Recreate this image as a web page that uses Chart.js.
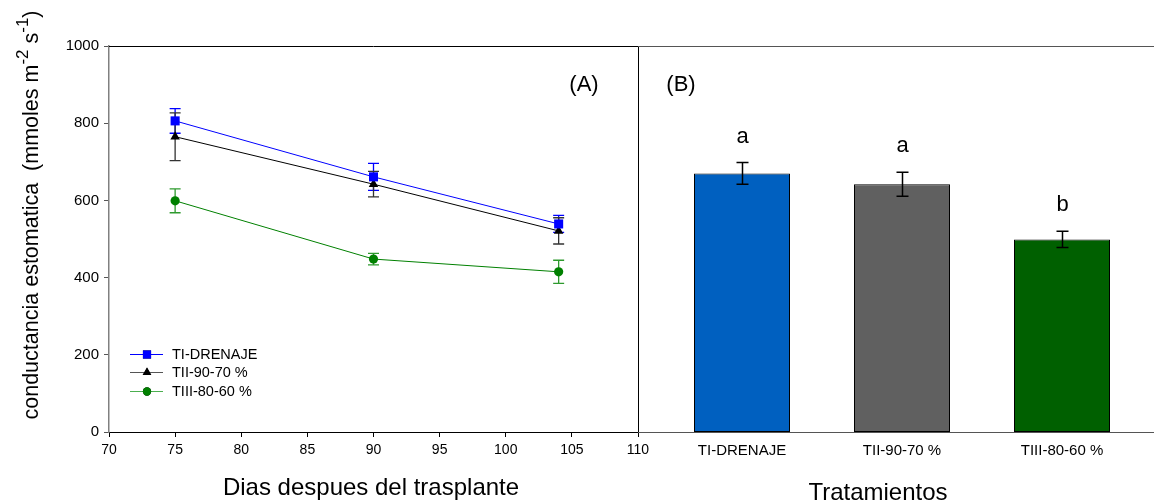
<!DOCTYPE html>
<html>
<head>
<meta charset="utf-8">
<script src="https://cdn.jsdelivr.net/npm/chart.js@4.4.1/dist/chart.umd.min.js"></script>
<style>
  html, body { margin: 0; padding: 0; background: #fff; }
  #wrap { position: relative; width: 1154px; height: 503px; overflow: hidden; }
  #cA { position: absolute; left: 0; top: 0; }
  #cB { position: absolute; left: 638px; top: 0; }
</style>
</head>
<body>
<div id="wrap">
  <canvas id="cA" width="660" height="503"></canvas>
  <canvas id="cB" width="516" height="503"></canvas>
</div>
<script>
// ---------- DATA ----------
const days = [75, 90, 104];
const seriesNames = ["TI-DRENAJE", "TII-90-70 %", "TIII-80-60 %"];
const drenaje = [806, 661, 539];
const drenajeErr = [32, 35, 22];
const t9070 = [765, 642, 521];
const t9070Err = [62, 33, 34];
const t8060 = [599, 448, 415];
const t8060Err = [31, 15, 30];
const xTicksA = [70, 75, 80, 85, 90, 95, 100, 105, 110];
const yTicks = [0, 200, 400, 600, 800, 1000];

const tratamientos = ["TI-DRENAJE", "TII-90-70 %", "TIII-80-60 %"];
const meanVals = [670, 642, 499];
const meanErr = [28, 31, 21];
const letters = ["a", "a", "b"];

const FONT = "'Liberation Sans', Arial, Helvetica, sans-serif";

function toXY(xs, ys) { return xs.map((x, i) => ({ x: x, y: ys[i] })); }

// ---------- CHART A ----------
const styleA = [
  { line: '#0000FF', point: '#0000FF', err: '#0000FF', legLine: '#0000FF', shape: 'rect', r: 6.4 },
  { line: '#000000', point: '#000000', err: '#333333', legLine: '#555555', shape: 'triangle', r: 5.5 },
  { line: '#008000', point: '#008000', err: '#2E9A2E', legLine: '#4CAF50', shape: 'circle', r: 4.6 }
];
const valsA = [drenaje, t9070, t8060];
const errsA = [drenajeErr, t9070Err, t8060Err];

const pluginA = {
  id: 'pA',
  beforeDatasetsDraw(chart) {
    const ctx = chart.ctx, xs = chart.scales.x, ys = chart.scales.y;
    ctx.save();
    valsA.forEach((vals, si) => {
      ctx.strokeStyle = styleA[si].err;
      ctx.lineWidth = 1.3;
      vals.forEach((v, i) => {
        const px = xs.getPixelForValue(days[i]);
        const top = ys.getPixelForValue(v + errsA[si][i]);
        const bot = ys.getPixelForValue(v - errsA[si][i]);
        ctx.beginPath();
        ctx.moveTo(px, top); ctx.lineTo(px, bot);
        ctx.moveTo(px - 5.5, top); ctx.lineTo(px + 5.5, top);
        ctx.moveTo(px - 5.5, bot); ctx.lineTo(px + 5.5, bot);
        ctx.stroke();
      });
    });
    ctx.restore();
  },
  afterDraw(chart) {
    const ctx = chart.ctx, a = chart.chartArea;
    ctx.save();
    // frame: top and right
    ctx.strokeStyle = '#000'; ctx.lineWidth = 1;
    ctx.beginPath();
    ctx.moveTo(a.left, Math.round(a.top) + 0.5); ctx.lineTo(a.right, Math.round(a.top) + 0.5);
    ctx.moveTo(Math.round(a.right) + 0.5, a.top); ctx.lineTo(Math.round(a.right) + 0.5, a.bottom);
    ctx.stroke();
    // panel label
    ctx.fillStyle = '#000';
    ctx.font = '22px ' + FONT;
    ctx.textAlign = 'center'; ctx.textBaseline = 'alphabetic';
    ctx.fillText('(A)', 584, 91);
    // legend
    const rows = [354, 372, 391];
    ctx.font = '14.5px ' + FONT;
    ctx.textAlign = 'left'; ctx.textBaseline = 'middle';
    seriesNames.forEach((nm, i) => {
      const st = styleA[i];
      ctx.strokeStyle = st.legLine; ctx.lineWidth = 1;
      ctx.beginPath(); ctx.moveTo(130, rows[i] + 0.5); ctx.lineTo(163, rows[i] + 0.5); ctx.stroke();
      Chart.helpers.drawPoint(ctx, { pointStyle: st.shape, radius: st.r * 0.9, borderWidth: 0, rotation: 0 }, 147, rows[i] + 0.5);
      ctx.fillStyle = st.point;
      ctx.fill();
      ctx.fillStyle = '#000';
      ctx.fillText(nm, 172, rows[i] + 1);
    });
    // x title
    ctx.font = '24px ' + FONT;
    ctx.textAlign = 'center'; ctx.textBaseline = 'alphabetic';
    ctx.fillText('Dias despues del trasplante', 371, 495);
    // y title with superscripts
    const parts = [
      { t: 'conductancia estomatica  (mmoles m', s: false },
      { t: '-2', s: true },
      { t: ' s', s: false },
      { t: '-1', s: true },
      { t: ')', s: false }
    ];
    const fN = '21.5px ' + FONT, fS = '17px ' + FONT;
    let total = 0;
    parts.forEach(p => { ctx.font = p.s ? fS : fN; p.w = ctx.measureText(p.t).width; total += p.w; });
    ctx.translate(38, 215);
    ctx.rotate(-Math.PI / 2);
    ctx.textAlign = 'left';
    let cx = -total / 2;
    parts.forEach(p => {
      ctx.font = p.s ? fS : fN;
      ctx.fillText(p.t, cx, p.s ? -10 : 0);
      cx += p.w;
    });
    ctx.restore();
  }
};

new Chart(document.getElementById('cA'), {
  type: 'line',
  data: {
    datasets: valsA.map((vals, i) => ({
      label: seriesNames[i],
      data: toXY(days, vals),
      borderColor: styleA[i].line,
      backgroundColor: styleA[i].point,
      borderWidth: 1,
      pointStyle: styleA[i].shape,
      pointRadius: styleA[i].r,
      pointBorderWidth: 0,
      pointBackgroundColor: styleA[i].point,
      tension: 0,
      fill: false
    }))
  },
  options: {
    responsive: false,
    animation: false,
    devicePixelRatio: 1,
    layout: { padding: { left: 0, right: 22, top: 46, bottom: 0 } },
    plugins: { legend: { display: false }, tooltip: { enabled: false } },
    scales: {
      x: {
        type: 'linear', min: 70, max: 110,
        afterFit(s) { s.height = 71; },
        afterBuildTicks(s) { s.ticks = xTicksA.map(v => ({ value: v })); },
        ticks: { color: '#000', font: { size: 14, family: FONT }, padding: 5, maxRotation: 0, autoSkip: false,
                 callback: v => String(v) },
        grid: { drawOnChartArea: false, drawTicks: true, tickLength: 5, color: '#000' },
        border: { color: '#000', width: 1 }
      },
      y: {
        type: 'linear', min: 0, max: 1000,
        afterFit(s) { s.width = 109; },
        afterBuildTicks(s) { s.ticks = yTicks.map(v => ({ value: v })); },
        ticks: { color: '#000', font: { size: 15, family: FONT }, padding: 5, callback: v => String(v) },
        grid: { drawOnChartArea: false, drawTicks: true, tickLength: 5, color: '#555' },
        border: { color: '#808080', width: 1.5 }
      }
    }
  },
  plugins: [pluginA]
});

// ---------- CHART B ----------
const barColors = ['#0060C0', '#606060', '#006000'];

const pluginB = {
  id: 'pB',
  afterDatasetsDraw(chart) {
    const ctx = chart.ctx, ys = chart.scales.y;
    const meta = chart.getDatasetMeta(0);
    ctx.save();
    ctx.strokeStyle = '#000'; ctx.lineWidth = 1.5;
    ctx.fillStyle = '#000';
    ctx.font = '22px ' + FONT;
    ctx.textAlign = 'center'; ctx.textBaseline = 'alphabetic';
    meta.data.forEach((bar, i) => {
      const px = Math.round(bar.x) + 0.5;
      const top = ys.getPixelForValue(meanVals[i] + meanErr[i]);
      const bot = ys.getPixelForValue(meanVals[i] - meanErr[i]);
      ctx.beginPath();
      ctx.moveTo(px, top); ctx.lineTo(px, bot);
      ctx.moveTo(px - 6, top); ctx.lineTo(px + 6, top);
      ctx.moveTo(px - 6, bot); ctx.lineTo(px + 6, bot);
      ctx.stroke();
      ctx.fillText(letters[i], px, top - 20);
    });
    ctx.restore();
  },
  afterDraw(chart) {
    const ctx = chart.ctx, a = chart.chartArea;
    ctx.save();
    ctx.strokeStyle = '#555'; ctx.lineWidth = 1;
    ctx.beginPath();
    ctx.moveTo(0, Math.round(a.top) + 0.5); ctx.lineTo(chart.width, Math.round(a.top) + 0.5);
    ctx.moveTo(0, Math.round(a.bottom) + 0.5); ctx.lineTo(chart.width, Math.round(a.bottom) + 0.5);
    ctx.stroke();
    ctx.fillStyle = '#000';
    ctx.font = '22px ' + FONT;
    ctx.textAlign = 'center'; ctx.textBaseline = 'alphabetic';
    ctx.fillText('(B)', 681 - 638, 91);
    ctx.font = '24px ' + FONT;
    ctx.fillText('Tratamientos', 878 - 638, 500);
    ctx.restore();
  }
};

new Chart(document.getElementById('cB'), {
  type: 'bar',
  data: {
    labels: tratamientos,
    datasets: [{
      data: meanVals,
      backgroundColor: barColors,
      borderColor: '#000',
      borderWidth: 1,
      borderSkipped: false,
      barPercentage: 0.6,
      categoryPercentage: 1.0
    }]
  },
  options: {
    responsive: false,
    animation: false,
    devicePixelRatio: 1,
    layout: { padding: { left: 24, right: 12, top: 46, bottom: 0 } },
    plugins: { legend: { display: false }, tooltip: { enabled: false } },
    scales: {
      x: {
        afterFit(s) { s.height = 71; },
        ticks: { color: '#000', font: { size: 15, family: FONT }, padding: 2, maxRotation: 0, autoSkip: false },
        grid: { display: false },
        border: { display: false }
      },
      y: {
        display: false, min: 0, max: 1000
      }
    }
  },
  plugins: [pluginB]
});
</script>
</body>
</html>
